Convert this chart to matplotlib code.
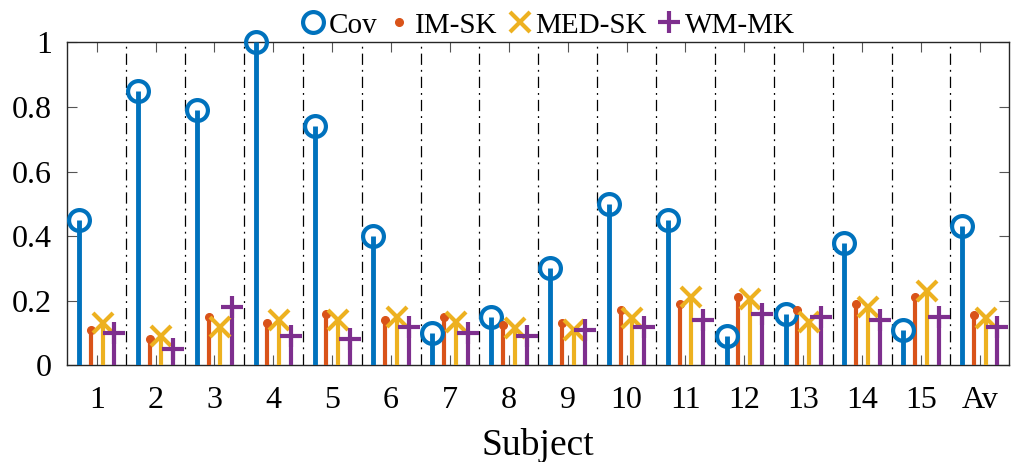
import matplotlib
matplotlib.use("Agg")
import matplotlib.pyplot as plt
import numpy as np

subjects = ["1", "2", "3", "4", "5", "6", "7", "8", "9", "10", "11", "12", "13", "14", "15", "Av"]
cov    = [0.45, 0.85, 0.79, 1.00, 0.74, 0.40, 0.10, 0.15, 0.30, 0.50, 0.45, 0.09, 0.16, 0.38, 0.11, 0.43]
im_sk  = [0.11, 0.08, 0.15, 0.13, 0.16, 0.14, 0.15, 0.125, 0.13, 0.17, 0.19, 0.21, 0.17, 0.19, 0.21, 0.155]
med_sk = [0.13, 0.09, 0.12, 0.14, 0.14, 0.15, 0.135, 0.115, 0.11, 0.145, 0.21, 0.205, 0.135, 0.18, 0.23, 0.145]
wm_mk  = [0.10, 0.05, 0.18, 0.09, 0.08, 0.12, 0.10, 0.09, 0.11, 0.12, 0.14, 0.16, 0.15, 0.14, 0.15, 0.12]
series_names = ["Cov", "IM-SK", "MED-SK", "WM-MK"]

plt.rcParams['font.family'] = ['Liberation Serif', 'DejaVu Serif']

fig = plt.figure(figsize=(10.12, 4.62), dpi=100)
ax = fig.add_axes([0.0665, 0.2093, 0.9308, 0.6991])

x = np.arange(1, len(subjects) + 1)
offsets = [-0.3, -0.1, 0.1, 0.3]
colors = ['#0072BD', '#D95319', '#EDB120', '#7E2F8E']
markers = ['o', 'o', 'x', '+']
msizes = [15, 5.5, 14, 16]
mews = [3.0, 1.0, 3.0, 3.0]
lws = [3.5, 3.0, 3.0, 3.0]
data = [cov, im_sk, med_sk, wm_mk]

# separators
for b in np.arange(1.5, len(subjects), 1.0):
    ax.axvline(b, color='black', lw=0.9, ls=(0, (9, 4, 1.5, 4)), zorder=1)

handles = []
for vals, off, c, m, ms, mew, lw, name in zip(data, offsets, colors, markers, msizes, mews, lws, series_names):
    ml, sl, bl = ax.stem(x + off, vals, basefmt=' ')
    sl.set_color(c)
    sl.set_linewidth(lw)
    sl.set_zorder(3)
    ml.set_color(c)
    ml.set_marker(m)
    ml.set_markersize(ms)
    ml.set_markeredgewidth(mew)
    ml.set_zorder(4)
    if name == 'Cov':
        ml.set_markerfacecolor('none')
    else:
        ml.set_markerfacecolor(c)
    ml.set_markeredgecolor(c)
    ml.set_clip_on(False)
    h, = ax.plot([], [], ls='none', marker=m, color=c, markersize=ms,
                 markeredgewidth=mew,
                 markerfacecolor=('none' if name == 'Cov' else c))
    handles.append(h)

ax.set_xlim(0.5, len(subjects) + 0.5)
ax.set_ylim(0, 1)
ax.set_xticks(x)
ax.set_xticklabels(subjects)
ax.set_yticks([0, 0.2, 0.4, 0.6, 0.8, 1.0])
ax.set_yticklabels(["0", "0.2", "0.4", "0.6", "0.8", "1"])
ax.tick_params(direction='in', top=True, right=True, length=7, width=0.8,
               color='#555555', labelsize=23)
ax.tick_params(axis='x', pad=15)
ax.tick_params(axis='y', pad=11)
for s in ax.spines.values():
    s.set_linewidth(1.0)
    s.set_color('#262626')

ax.set_xlabel("Subject", fontsize=27, labelpad=9)

leg = fig.legend(handles, series_names, loc='center', bbox_to_anchor=(0.54, 0.945),
                 ncol=4, frameon=False, fontsize=21, handlelength=1.0,
                 handletextpad=0.05, columnspacing=0.25, borderpad=0.0)

fig.savefig("out.png", dpi=100)
